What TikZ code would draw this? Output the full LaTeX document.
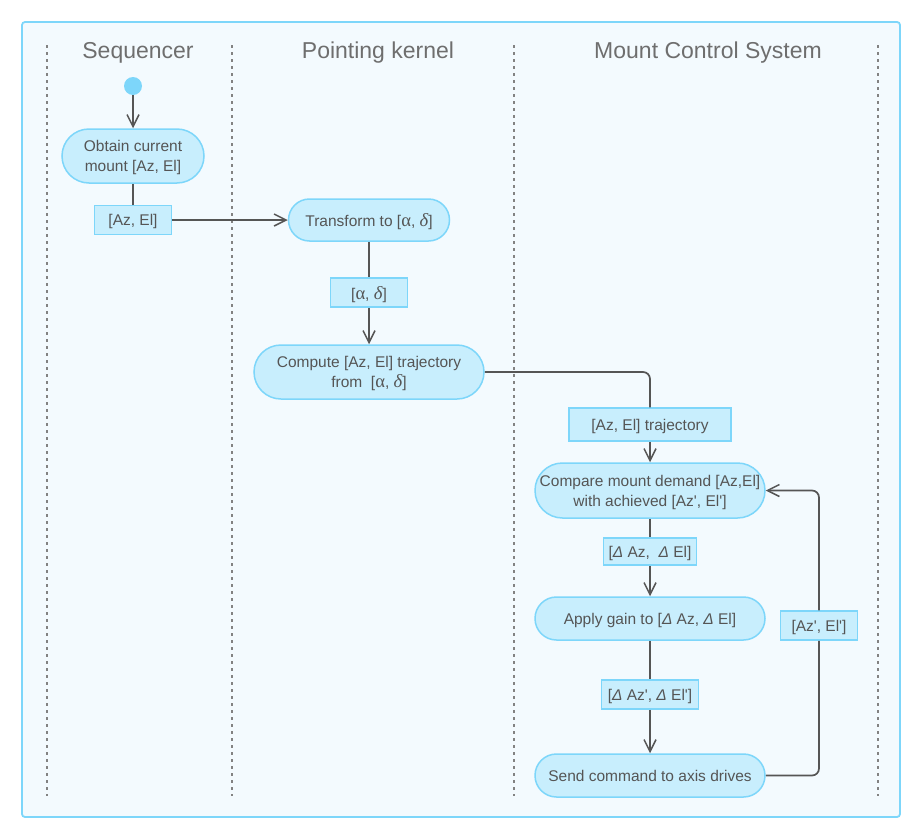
\documentclass[tikz,border=0pt]{standalone}
\usepackage{fontspec}
\setmainfont{Liberation Sans}[Ligatures=TeXOff]
\newfontfamily\grfont{Liberation Serif}[Scale=1.2]
\usetikzlibrary{arrows.meta}
\definecolor{framefill}{RGB}{243,250,254}
\definecolor{framedraw}{RGB}{125,214,250}
\definecolor{boxfill}{RGB}{200,238,253}
\definecolor{boxdraw}{RGB}{125,214,250}
\definecolor{txt}{RGB}{85,85,85}
\definecolor{lane}{RGB}{130,130,130}
\definecolor{conn}{RGB}{85,85,85}
\newcommand{\ga}{{\grfont α}}
\newcommand{\gd}{{\grfont\itshape δ}}
\newcommand{\gD}{{\itshape Δ}}
\begin{document}
\begin{tikzpicture}[x=1pt,y=-1pt,
  every node/.style={text=txt,font=\fontsize{15.5}{20}\selectfont,inner sep=0pt,align=center},
  action/.style={draw=boxdraw,fill=boxfill,line width=1.5pt,rounded corners=#1,minimum height=2*#1,text depth=-1.5pt},
  objbox/.style={draw=boxdraw,fill=boxfill,line width=1.5pt,minimum height=29,text depth=-1.5pt},
  lanetitle/.style={font=\fontsize{23}{27}\selectfont,text=txt!85},
  laneline/.style={draw=lane,line width=1.2pt,dash pattern=on 3pt off 4pt},
  conn/.style={draw=conn,line width=1.7pt},
  arr/.style={conn,-{Straight Barb[length=12pt,width=12pt,line width=1.5pt]}}
]
\useasboundingbox (0,0) rectangle (921,838);
\draw[fill=framefill,draw=framedraw,line width=1.8pt,rounded corners=3pt] (22,22) rectangle (900,817);
\foreach \x in {47,232,514,878} \draw[laneline] (\x,45) -- (\x,796);
\node[lanetitle] (t1) at (138,53) {Sequencer};
\node[lanetitle] (t2) at (378,53) {Pointing kernel};
\node[lanetitle] (t3) at (708,53) {Mount Control System};

\node[circle,fill=framedraw,minimum size=18,inner sep=0pt] (start) at (133,86) {};
\node[action=27,minimum width=142] (obtain) at (133,156) {Obtain current\\mount [Az, El]};
\node[objbox,minimum width=77] (azel) at (133,220) {[Az, El]};
\node[action=21,minimum width=161] (transform) at (369,220) {Transform to [\ga, \gd]};
\node[objbox,minimum width=77] (ad) at (369,292.5) {[\ga, \gd]};
\node[action=27,minimum width=230] (compute) at (369,372) {Compute [Az, El] trajectory\\from \ [\ga, \gd]};
\node[objbox,minimum width=162,minimum height=33] (traj) at (650,424.5) {[Az, El] trajectory};
\node[action=27.5,minimum width=230] (compare) at (650,490.5) {Compare mount demand [Az,El]\\with achieved [Az', El']};
\node[objbox,minimum width=93,minimum height=27] (daz) at (650,551.5) {[\gD\ Az, \ \gD\ El]};
\node[action=21.5,minimum width=230] (apply) at (650,618.5) {Apply gain to [\gD\ Az, \gD\ El]};
\node[objbox,minimum width=97] (dazp) at (650,694.5) {[\gD\ Az', \gD\ El']};
\node[action=21.5,minimum width=230] (send) at (650,775.5) {Send command to axis drives};
\node[objbox,minimum width=77] (azelp) at (819,625.5) {[Az', El']};

\draw[arr] (start) -- (obtain.north);
\draw[conn] (obtain.south) -- (azel.north);
\draw[arr] (azel.east) -- (transform.west);
\draw[conn] (transform.south) -- (ad.north);
\draw[arr] (ad.south) -- (compute.north);
\draw[conn,rounded corners=7pt] (compute.east) -| (traj.north);
\draw[arr] (traj.south) -- (compare.north);
\draw[conn] (compare.south) -- (daz.north);
\draw[arr] (daz.south) -- (apply.north);
\draw[conn] (apply.south) -- (dazp.north);
\draw[arr] (dazp.south) -- (send.north);
\draw[conn,rounded corners=7pt] (send.east) -| (azelp.south);
\draw[arr,rounded corners=7pt] (azelp.north) |- (compare.east);
\end{tikzpicture}
\end{document}
